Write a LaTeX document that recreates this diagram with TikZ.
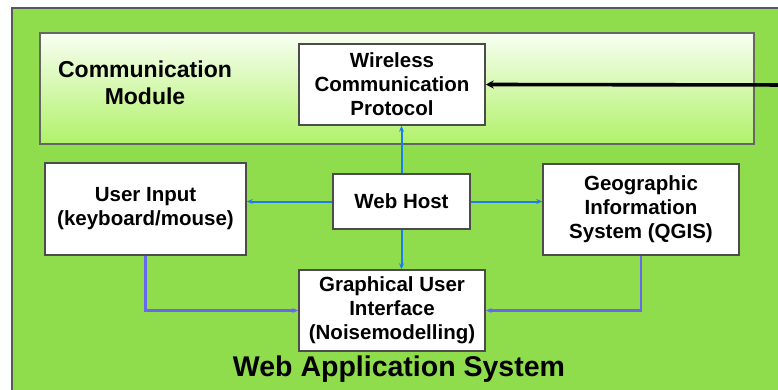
\documentclass[tikz,border=0pt]{standalone}
\usepackage{fontspec}
\setmainfont{Liberation Sans}
\usetikzlibrary{arrows.meta}

\definecolor{outergreen}{RGB}{143,220,76}
\definecolor{modgreen}{RGB}{176,242,104}
\definecolor{linkblue}{RGB}{30,124,240}
\definecolor{linkviolet}{RGB}{104,104,238}

\tikzset{
  box/.style={draw=black!70,line width=1.5pt,fill=white,align=center,inner sep=0pt,
    font=\bfseries\fontsize{20.5}{24}\selectfont},
  hostlink/.style={linkblue,line width=2pt,-{Stealth[length=6pt,width=5pt]}},
  guilink/.style={linkviolet,line width=2.4pt,-{Stealth[length=6pt,width=5pt]}}
}

\begin{document}
\begin{tikzpicture}[x=1pt,y=-1pt]
\useasboundingbox (0,0) rectangle (778,390);
\clip (0,0) rectangle (778,390);
\fill[white] (0,0) rectangle (778,390);

% whole system
\draw[fill=outergreen,draw=black!65,line width=1.8pt] (12,8) rectangle (800,410);
\node[font=\bfseries\fontsize{28.5}{32}\selectfont] (was) at (399,369) {Web Application System};

% communication module
\shade[top color=white!92!modgreen,bottom color=modgreen] (40,33) rectangle (754,144);
\draw[black!60,line width=1.4pt] (40,33) rectangle (754,144);
\node[align=center,font=\bfseries\fontsize{23}{27}\selectfont] (cm) at (145,83) {Communication\\Module};

\node[box,minimum width=186,minimum height=81] (wcp) at (392,84.5) {Wireless\\Communication\\Protocol};
\node[box,minimum width=137,minimum height=55] (host) at (401.5,201.5) {Web Host};
\node[box,minimum width=201,minimum height=92] (input) at (145.5,209) {User Input\\(keyboard/mouse)};
\node[box,minimum width=196,minimum height=91] (gis) at (641,209.5) {Geographic\\Information\\System (QGIS)};
\node[box,minimum width=186,minimum height=81] (gui) at (392,310.5) {Graphical User\\Interface\\(Noisemodelling)};

\coordinate (feed) at (800,85);
\draw[line width=3.6pt,-{Stealth[length=8pt,width=8pt]}] (feed) -- (wcp.east);

\draw[hostlink] (host.north) -- (host.north |- wcp.south);
\draw[hostlink] (host.south) -- (host.south |- gui.north);
\draw[hostlink] (host.west) -- (host.west -| input.east);
\draw[hostlink] (host.east) -- (host.east -| gis.west);

\draw[guilink] (input.south) |- (gui.west);
\draw[guilink] (gis.south) |- (gui.east);
\end{tikzpicture}
\end{document}
